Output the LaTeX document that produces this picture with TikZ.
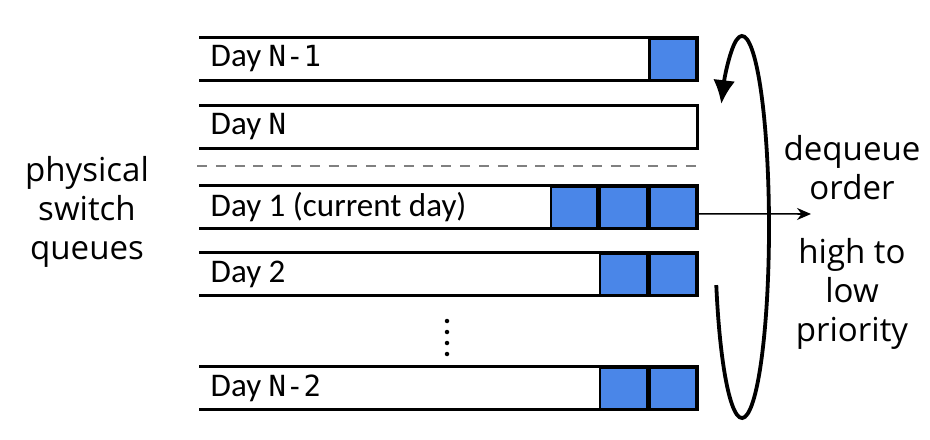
\documentclass[tikz,border=0pt]{standalone}
\usepackage{fontspec}
\setmainfont{Open Sans}
\newfontfamily\dayfont{Carlito}
\setmonofont[Scale=0.88]{DejaVu Sans Mono}
\usepackage{tikz}
\usetikzlibrary{arrows.meta, positioning}

\definecolor{cellblue}{HTML}{4A86E8}

\begin{document}
\begin{tikzpicture}[x=0.025cm, y=-0.025cm, thick,
  queue/.style={minimum width=12.425cm, minimum height=1.05cm, inner sep=0pt},
  cell/.style={draw, line width=1.8pt, fill=cellblue, minimum width=1.17cm,
    minimum height=1.05cm, inner sep=0pt, anchor=north east},
  day label/.style={font=\dayfont\fontsize{23.5}{26}\selectfont, anchor=west, inner sep=0pt},
  side text/.style={font=\fontsize{23.5}{27.6}\selectfont, align=center, inner sep=0pt}]

  \useasboundingbox (0,0) rectangle (930,440);

  % the queues
  \node[queue] (q1) at (448.5, 59) {};
  \node[queue] (q2) at (448.5, 127) {};
  \node[queue] (q3) at (448.5, 207) {};
  \node[queue] (q4) at (448.5, 274) {};
  \node[queue] (q5) at (448.5, 388) {};

  \foreach \q in {q1, q2, q3, q4, q5}
    \draw[line width=1.8pt] (\q.north west) -- (\q.north east) -- (\q.south east) -- (\q.south west);

  \node[day label] at ([xshift=0.27cm]q1.west) {Day \texttt{N-1}};
  \node[day label] at ([xshift=0.27cm]q2.west) {Day \texttt{N}};
  \node[day label] at ([xshift=0.27cm]q3.west) {Day 1 (current day)};
  \node[day label] at ([xshift=0.27cm]q4.west) {Day 2};
  \node[day label] at ([xshift=0.27cm]q5.west) {Day \texttt{N-2}};

  % packets
  \node[cell] (c11) at (q1.north east) {};
  \node[cell] (c31) at (q3.north east) {};
  \node[cell] (c32) at (c31.north west) {};
  \node[cell] (c33) at (c32.north west) {};
  \node[cell] (c41) at (q4.north east) {};
  \node[cell] (c42) at (c41.north west) {};
  \node[cell] (c51) at (q5.north east) {};
  \node[cell] (c52) at (c51.north west) {};

  \draw[gray, line width=1.6pt, dash pattern=on 0.25cm off 0.22cm] (197,166) -- (697,166);
  \foreach \y in {321, 332, 343, 354}
    \fill (447, \y) circle (1.6pt);

  % dequeue order
  \coordinate (out) at (811, 214);
  \draw[line width=1.1pt, -{Stealth[length=0.35cm, width=0.3cm]}] ([yshift=-0.17cm]q3.east) -- (out);
  \draw[line width=2.7pt, -{Latex[length=0.6cm, width=0.55cm]}]
    (742,227) ++(162.3:27 and 191) arc[start angle=162.3, end angle=-140, x radius=27, y radius=191];

  \node[side text] (order) at (852, 168) {dequeue\\order};
  \node[side text] (prio) at (852, 294) {high to\\low\\priority};
  \node[side text] (phys) at (87, 212) {physical\\switch\\queues};
\end{tikzpicture}
\end{document}
